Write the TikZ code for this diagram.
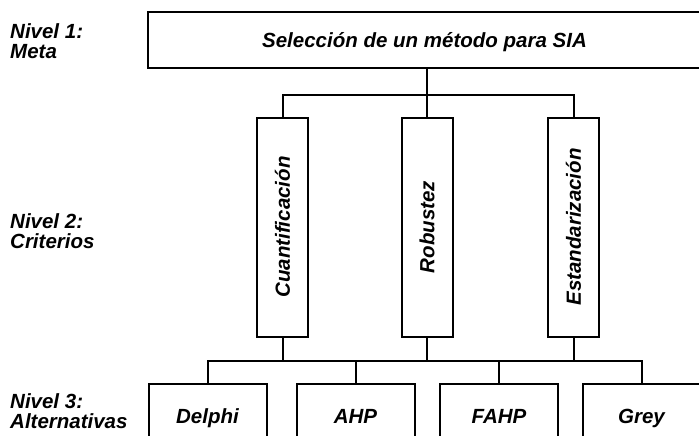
\documentclass[tikz,border=0pt]{standalone}
\usepackage{fontspec}
\setmainfont{Liberation Sans}
\newfontfamily\lab{Liberation Sans}
\begin{document}
\begin{tikzpicture}[x=1pt,y=-1pt,
  txt/.style={font=\lab\bfseries\itshape\fontsize{20.5}{20}\selectfont},
  box/.style={txt,draw=black,line width=2pt,fill=white,inner sep=0pt,text height=14.7pt,text depth=0pt},
  crit/.style={box,rotate=90,minimum width=219pt,minimum height=51pt},
  alt/.style={box,minimum width=118pt,minimum height=64pt},
  link/.style={line width=2pt,line join=miter},
  lvl/.style={txt,anchor=west,align=left,inner sep=0pt}]
\fill[white] (0,0) rectangle (699,436);
\useasboundingbox (0,0) rectangle (699,436);
\begin{scope}
\clip (0,0) rectangle (699,436);
% levels
\node[lvl] (l1) at (10,41) {Nivel 1:\\Meta};
\node[lvl] (l2) at (10,231.5) {Nivel 2:\\Criterios};
\node[lvl] (l3) at (10,411) {Nivel 3:\\Alternativas};
% goal
\node[box,minimum width=553pt,minimum height=56pt] (meta) at (424.5,40.5) {Selecci\'on de un m\'etodo para SIA};
% criteria
\node[crit] (c) at (282.5,227) {Cuantificación};
\node[crit] (r) at (427,227) {Robustez};
\node[crit] (e) at (573.5,227) {Estandarización};
% alternatives
\node[alt] (d) at (207.5,416) {Delphi};
\node[alt] (a) at (355.5,416) {AHP};
\node[alt] (f) at (499,416) {FAHP};
\node[alt] (g) at (641.5,416) {Grey};
% connectors
\coordinate (bus1) at (427,95);
\coordinate (bus2) at (427,361);
\draw[link] (meta.south -| r.east) -- (r.east);
\draw[link] (c.east) |- (bus1) -| (e.east);
\draw[link] (c.west) -- (c.west |- bus2);
\draw[link] (r.west) -- (r.west |- bus2);
\draw[link] (e.west) -- (e.west |- bus2);
\draw[link] (d.north) |- (bus2) -| (g.north);
\draw[link] (a.north) -- (a.north |- bus2);
\draw[link] (f.north) -- (f.north |- bus2);
\end{scope}
\end{tikzpicture}
\end{document}
